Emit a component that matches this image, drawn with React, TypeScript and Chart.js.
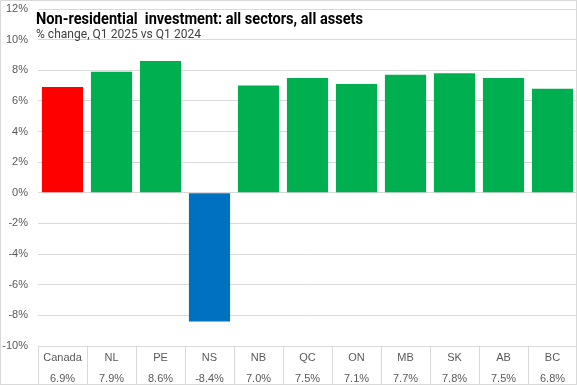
import React, { useEffect, useRef } from "react";
import { Chart, registerables } from "chart.js";

Chart.register(...registerables);

const regions = ["Canada", "NL", "PE", "NS", "NB", "QC", "ON", "MB", "SK", "AB", "BC"];
const changes = [6.9, 7.9, 8.6, -8.4, 7.0, 7.5, 7.1, 7.7, 7.8, 7.5, 6.8];
const barColors = ["#FF0000", "#00B050", "#00B050", "#0070C0", "#00B050", "#00B050", "#00B050", "#00B050", "#00B050", "#00B050", "#00B050"];
const yTicksMin = -10;
const yTicksMax = 12;
const yStep = 2;
const titleText = "Non-residential  investment: all sectors, all assets";
const subtitleText = "% change, Q1 2025 vs Q1 2024";

const titlePlugin = {
  id: "overlayTitle",
  afterDraw(chart: any) {
    const ctx = chart.ctx;
    ctx.save();
    ctx.textAlign = "left";
    ctx.textBaseline = "alphabetic";
    ctx.fillStyle = "#000000";
    ctx.font = "bold 17px 'Liberation Sans Narrow', Roboto, sans-serif";
    ctx.fillText(titleText, 36, 24, 327);
    ctx.fillStyle = "#404040";
    ctx.font = "13px 'Liberation Sans Narrow', Roboto, sans-serif";
    ctx.fillText(subtitleText, 36, 38, 165);
    ctx.restore();
  },
};

const borderPlugin = {
  id: "outerBorder",
  afterDraw(chart: any) {
    const ctx = chart.ctx;
    ctx.save();
    ctx.strokeStyle = "#d9d9d9";
    ctx.lineWidth = 1;
    ctx.strokeRect(0.5, 0.5, chart.width - 1, chart.height - 1);
    ctx.restore();
  },
};

export default function App() {
  const ref = useRef<HTMLCanvasElement>(null);
  useEffect(() => {
    if (!ref.current) return;
    const labels = regions.map((r, i) => [r, changes[i].toFixed(1) + "%"]);
    const chart = new Chart(ref.current, {
      type: "bar",
      data: {
        labels,
        datasets: [
          {
            data: changes,
            backgroundColor: barColors,
            barPercentage: 0.84,
            categoryPercentage: 1,
          },
        ],
      },
      options: {
        animation: false,
        responsive: false,
        maintainAspectRatio: false,
        layout: { padding: { top: 9, left: 0, right: 0, bottom: 0 } },
        plugins: {
          legend: { display: false },
          tooltip: { enabled: false },
          title: { display: false },
        },
        scales: {
          x: {
            grid: {
              offset: true,
              drawOnChartArea: false,
              drawTicks: true,
              tickLength: 39,
              color: "#d9d9d9",
            },
            border: { display: false },
            ticks: {
              padding: -37,
              color: "#595959",
              font: { family: "'Liberation Sans', Arial, sans-serif", size: 11, lineHeight: 1.85 },
              maxRotation: 0,
              autoSkip: false,
            },
            afterFit(scale: any) {
              scale.height = 39;
              scale.paddingLeft = 0;
              scale.paddingRight = 0;
            },
          },
          y: {
            min: yTicksMin,
            max: yTicksMax,
            ticks: {
              stepSize: yStep,
              color: "#595959",
              padding: 10,
              font: { family: "'Liberation Sans', Arial, sans-serif", size: 11 },
              callback: (v: any) => v + "%",
            },
            grid: { color: "#d9d9d9", drawTicks: false },
            border: { display: false },
            afterFit(scale: any) {
              scale.width = 38;
              scale.paddingTop = 0;
              scale.paddingBottom = 0;
            },
          },
        },
      },
      plugins: [titlePlugin, borderPlugin],
    });
    return () => chart.destroy();
  }, []);
  return (
    <div style={{ position: "fixed", left: 0, top: 0, width: 577, height: 385, background: "#fff" }}>
      <canvas ref={ref} width={577} height={385} style={{ width: 577, height: 385 }} />
    </div>
  );
}
